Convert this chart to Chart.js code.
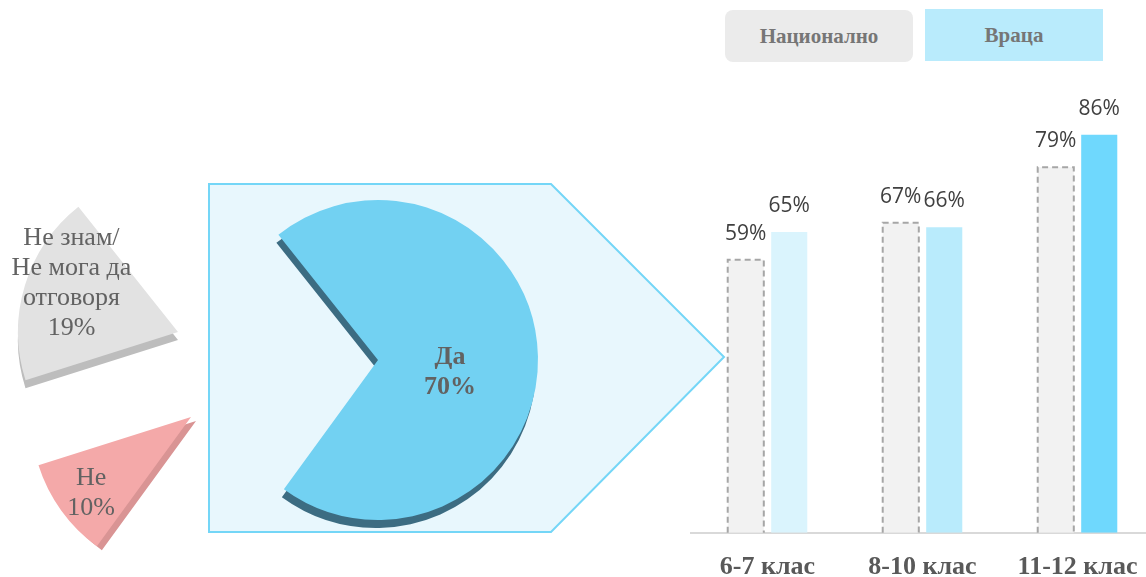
<!DOCTYPE html>
<html lang="bg">
<head>
<meta charset="utf-8">
<title>Да / Не – по класове</title>
<script src="https://cdn.jsdelivr.net/npm/chart.js@4.4.1/dist/chart.umd.min.js"></script>
<style>
  html, body { margin: 0; padding: 0; background: #fff; overflow: hidden; }
  body { width: 1146px; height: 577px; position: relative; }
  #pieBox { position: absolute; left: 0; top: 0; width: 756px; height: 577px; }
  #barBox { position: absolute; left: 690px; top: 0; width: 465px; height: 605px; }
  .legend-item {
    position: absolute; height: 52px; line-height: 52px; text-align: center;
    font-family: "Liberation Serif", "Times New Roman", serif; font-weight: bold;
    font-size: 21px; color: #767676;
  }
</style>
</head>
<body>
<div id="pieBox"><canvas id="pieChart"></canvas></div>
<div id="barBox"><canvas id="barChart"></canvas></div>
<div id="legend"></div>

<script>
// pie: answer shares
const pieLabels = ['Да', 'Не', 'Не знам/ Не мога да отговоря'];
const pieValues = [70, 10, 19];
const pieColors = ['#72d1f2', '#f4a9a9', '#e2e2e2'];

// bars: by school grade
const gradeLabels = ['6-7 клас', '8-10 клас', '11-12 клас'];
const seriesNames = ['Национално', 'Враца'];
const nationalValues = [59, 67, 79];
const vratsaValues = [65, 66, 86];
const vratsaColors = ['#daf4fd', '#b9ebfc', '#6fd8fd'];

// exploded layout of the slices (pixels)
const sliceShift = [[0, 0], [-187, 57], [-200, -28]];
const sliceDepth = [[-2, 8], [5, 4], [0, 8]];
const depthColors = ['#3c6c82', '#d99494', '#bdbdbd'];
const labelNudge = [[-8, 14], [-35, 29], [-30, -25]];

function wrapLabel(label) {
    if (label.length < 12) return [label];
    return ['Не знам/', 'Не мога да', 'отговоря'];
}

const explodedPie = {
    id: 'explodedPie',
    beforeDraw(chart) {
        const ctx = chart.ctx;
        ctx.save();
        ctx.beginPath();
        ctx.moveTo(209, 184);
        ctx.lineTo(551, 184);
        ctx.lineTo(724, 357);
        ctx.lineTo(551, 532);
        ctx.lineTo(209, 532);
        ctx.closePath();
        ctx.fillStyle = '#e8f7fd';
        ctx.fill();
        ctx.strokeStyle = '#74d6f7';
        ctx.lineWidth = 2;
        ctx.stroke();
        ctx.restore();
    },
    beforeDatasetsDraw(chart) {
        const ctx = chart.ctx;
        const meta = chart.getDatasetMeta(0);
        meta.data.forEach((arc, i) => {
            ctx.save();
            ctx.translate(sliceShift[i][0], sliceShift[i][1]);
            ctx.shadowColor = depthColors[i];
            ctx.shadowOffsetX = sliceDepth[i][0];
            ctx.shadowOffsetY = sliceDepth[i][1];
            ctx.shadowBlur = 0;
            arc.draw(ctx);
            ctx.restore();
        });
        // labels
        meta.data.forEach((arc, i) => {
            const pos = arc.tooltipPosition(true);
            const lines = [...wrapLabel(pieLabels[i]), pieValues[i] + '%'];
            const cx = pos.x + sliceShift[i][0] + labelNudge[i][0];
            const cy = pos.y + sliceShift[i][1] + labelNudge[i][1];
            const lh = 30;
            ctx.save();
            ctx.fillStyle = '#626262';
            ctx.textAlign = 'center';
            ctx.textBaseline = 'middle';
            ctx.font = (i === 0 ? 'bold ' : '') + '26px "Liberation Serif", serif';
            lines.forEach((t, k) => {
                ctx.fillText(t, cx, cy + (k - (lines.length - 1) / 2) * lh);
            });
            ctx.restore();
        });
        return false;
    }
};

new Chart(document.getElementById('pieChart'), {
    type: 'pie',
    data: {
        labels: pieLabels,
        datasets: [{
            data: pieValues,
            backgroundColor: pieColors,
            borderWidth: 0
        }]
    },
    options: {
        responsive: true,
        maintainAspectRatio: false,
        animation: false,
        events: [],
        radius: 160,
        rotation: -38.5,
        layout: { padding: { top: 143 } },
        plugins: {
            legend: { display: false },
            tooltip: { enabled: false }
        }
    },
    plugins: [explodedPie]
});

const barExtras = {
    id: 'barExtras',
    afterDatasetsDraw(chart) {
        const ctx = chart.ctx;
        ctx.save();
        chart.getDatasetMeta(0).data.forEach(bar => {
            const { x, y, base, width } = bar.getProps(['x', 'y', 'base', 'width'], true);
            ctx.setLineDash([6, 4]);
            ctx.strokeStyle = '#a6a6a6';
            ctx.lineWidth = 2;
            ctx.beginPath();
            ctx.moveTo(x - width / 2, base);
            ctx.lineTo(x - width / 2, y);
            ctx.lineTo(x + width / 2, y);
            ctx.lineTo(x + width / 2, base);
            ctx.stroke();
        });
        ctx.setLineDash([]);
        ctx.fillStyle = '#404040';
        ctx.font = '21px "Open Sans", sans-serif';
        ctx.textAlign = 'center';
        ctx.textBaseline = 'middle';
        chart.data.datasets.forEach((ds, di) => {
            chart.getDatasetMeta(di).data.forEach((bar, i) => {
                const { x, y } = bar.getProps(['x', 'y'], true);
                ctx.fillText(ds.data[i] + '%', x, y - 26);
            });
        });
        ctx.restore();
    }
};

new Chart(document.getElementById('barChart'), {
    type: 'bar',
    data: {
        labels: gradeLabels,
        datasets: [
            {
                label: seriesNames[0],
                data: nationalValues,
                backgroundColor: '#f2f2f2',
                borderWidth: 0
            },
            {
                label: seriesNames[1],
                data: vratsaValues,
                backgroundColor: vratsaColors,
                borderWidth: 0
            }
        ]
    },
    options: {
        responsive: true,
        maintainAspectRatio: false,
        animation: false,
        events: [],
        categoryPercentage: 0.561,
        barPercentage: 0.83,
        layout: { padding: { top: 70, bottom: 11 } },
        plugins: {
            legend: { display: false },
            tooltip: { enabled: false }
        },
        scales: {
            x: {
                grid: { display: false },
                border: { display: true, color: '#d9d9d9', width: 2 },
                ticks: {
                    color: '#595959',
                    padding: 11,
                    font: { family: '"Liberation Serif", serif', size: 26, weight: 'bold' }
                }
            },
            y: { display: false, min: 0, max: 100 }
        }
    },
    plugins: [barExtras]
});

// legend boxes
const legendBoxes = [
    { left: 725, top: 10, width: 188, bg: '#ebebeb', radius: 8 },
    { left: 925, top: 9, width: 178, bg: '#b9ebfc', radius: 0 }
];
const legendEl = document.getElementById('legend');
seriesNames.forEach((name, i) => {
    const b = legendBoxes[i];
    const d = document.createElement('div');
    d.className = 'legend-item';
    d.style.left = b.left + 'px';
    d.style.top = b.top + 'px';
    d.style.width = b.width + 'px';
    d.style.background = b.bg;
    d.style.borderRadius = b.radius + 'px';
    d.textContent = name;
    legendEl.appendChild(d);
});
</script>
</body>
</html>
